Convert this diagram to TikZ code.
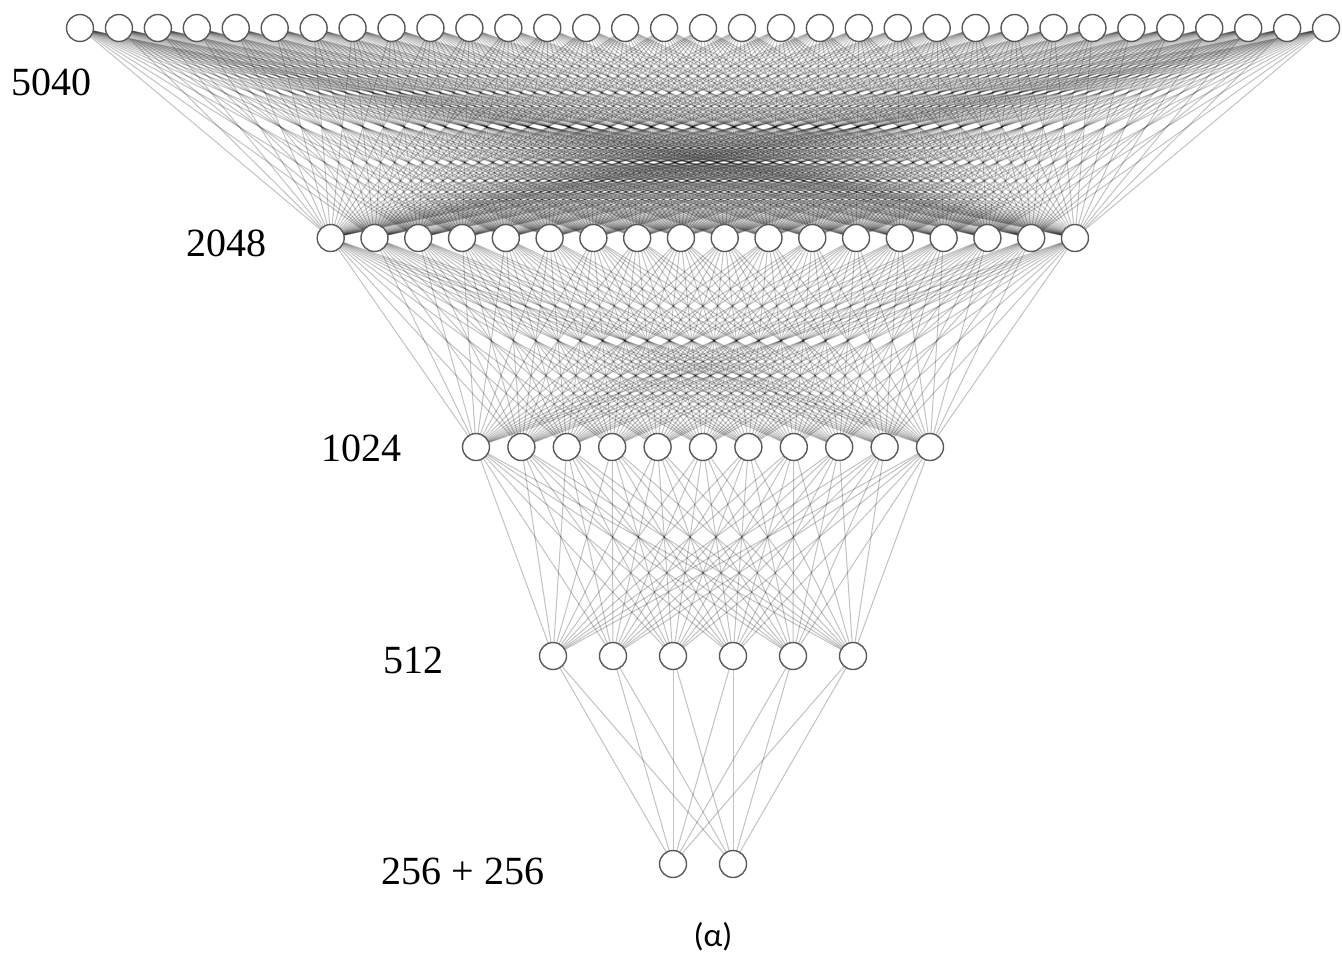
\documentclass[tikz,border=0pt]{standalone}
\usepackage{fontspec}
\setmainfont{Liberation Serif}
\newfontfamily\capfont{Carlito}
\usetikzlibrary{backgrounds}
\begin{document}
\begin{tikzpicture}[x=1pt,y=-1pt,
  neuron/.style={circle,draw=black!65,line width=1.4pt,fill=white,minimum size=27pt,inner sep=0pt},
  conn/.style={draw=black,draw opacity=0.24,line width=1pt},
  lbl/.style={font=\fontsize{40}{48}\selectfont,inner sep=0pt},
  captext/.style={font=\capfont\fontsize{33}{40}\selectfont,inner sep=0pt}]
\useasboundingbox (0,0) rectangle (1342,956);
% layers
\foreach \i in {0,...,32} \node[neuron] (a\i) at ({80+\i*38.94},28) {};
\foreach \i in {0,...,17} \node[neuron] (b\i) at ({330.7+\i*43.78},238) {};
\foreach \i in {0,...,10} \node[neuron] (c\i) at ({476+\i*45.4},447) {};
\foreach \i in {0,...,5} \node[neuron] (d\i) at ({553+\i*60},656) {};
\foreach \i in {0,1} \node[neuron] (e\i) at ({673+\i*60},864) {};
% connections
\begin{scope}[on background layer]
\foreach \i in {0,...,32} \foreach \j in {0,...,17} \draw[conn] (a\i.center) -- (b\j.center);
\foreach \i in {0,...,17} \foreach \j in {0,...,10} \draw[conn] (b\i.center) -- (c\j.center);
\foreach \i in {0,...,10} \foreach \j in {0,...,5} \draw[conn] (c\i.center) -- (d\j.center);
\foreach \i in {0,...,5} \foreach \j in {0,1} \draw[conn] (d\i.center) -- (e\j.center);
\end{scope}
% labels
\node[lbl] (l1) at (52,82) {5040};
\node[lbl] (l2) at (226,243) {2048};
\node[lbl] (l3) at (361,448) {1024};
\node[lbl] (l4) at (413,660) {512};
\node[lbl] (l5) at (463,871) {256 + 256};
\node[captext] (cap) at (713,937) {(α)};
\end{tikzpicture}
\end{document}
